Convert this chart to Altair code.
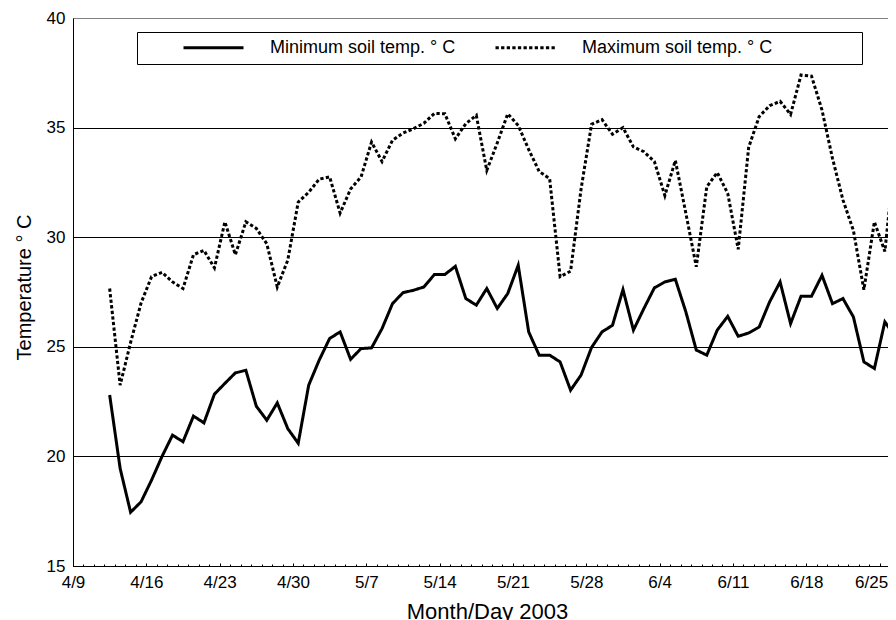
import json
import altair as alt
import pandas as pd

FONT = "Liberation Sans"

axis_start = "2003-04-09"
first_date = "2003-04-12"
tick_days = [0, 7, 14, 21, 28, 35, 42, 49, 56, 63, 70, 77]
tick_labels = ["4/9", "4/16", "4/23", "4/30", "5/7", "5/14", "5/21", "5/28",
               "6/4", "6/11", "6/18", "6/25"]
minor_days = list(range(0, 78))
y_ticks = [15, 20, 25, 30, 35, 40]
series_names = ["Minimum soil temp. \u00b0 C", "Maximum soil temp. \u00b0 C"]

min_temp = [22.8, 19.45, 17.45, 17.93, 18.92, 20.0, 20.97, 20.67, 21.84, 21.53,
            22.84, 23.33, 23.81, 23.93, 22.29, 21.65, 22.44, 21.27, 20.6, 23.25,
            24.39, 25.38, 25.68, 24.43, 24.92, 24.95, 25.83, 26.97, 27.47, 27.58,
            27.73, 28.3, 28.3, 28.67, 27.2, 26.9, 27.66, 26.75, 27.43, 28.72,
            25.68, 24.62, 24.62, 24.31, 23.02, 23.71, 24.97, 25.68, 25.98, 27.61,
            25.76, 26.75, 27.69, 27.96, 28.08, 26.6, 24.85, 24.62, 25.76, 26.39,
            25.48, 25.63, 25.9, 27.05, 27.96, 26.06, 27.31, 27.31, 28.26, 26.97,
            27.2, 26.36, 24.31, 24.01, 26.14, 25.45]

max_temp = [27.66, 23.25, 25.2, 27.0, 28.2, 28.4, 27.96, 27.66, 29.2, 29.4,
            28.6, 30.7, 29.2, 30.7, 30.4, 29.7, 27.73, 28.95, 31.6, 32.05,
            32.65, 32.75, 31.1, 32.2, 32.75, 34.34, 33.45, 34.42, 34.75, 34.95,
            35.2, 35.65, 35.63, 34.49, 35.18, 35.56, 33.05, 34.3, 35.63, 35.1,
            34.0, 33.0, 32.67, 28.2, 28.45, 32.2, 35.15, 35.36, 34.7, 35.0,
            34.12, 33.9, 33.45, 31.9, 33.5, 31.1, 28.65, 32.3, 32.95, 32.0,
            29.45, 34.1, 35.5, 36.0, 36.2, 35.6, 37.4, 37.35, 35.8, 33.6,
            31.7, 30.3, 27.6, 30.7, 29.35, 33.9]

# daily readings plotted at mid-day, x = days since 4/9
dates = pd.date_range(first_date, periods=len(min_temp), freq="D")
day = [float((d - pd.Timestamp(axis_start)).days) + 0.5 for d in dates]

rows = []
for name, vals in zip(series_names, [min_temp, max_temp]):
    for dval, v in zip(day, vals):
        rows.append({"day": dval, "temp": v, "series": name})
df = pd.DataFrame(rows)

xscale = alt.Scale(domain=[0, 77.8], nice=False, zero=False)
yscale = alt.Scale(domain=[15, 40], nice=False, zero=False)

label_expr = json.dumps(tick_labels) + "[round(datum.value / 7)]"
last_tick = tick_days[-1]

lines = alt.Chart(df).mark_line(
    color="black", strokeWidth=3, clip=True, strokeCap="butt"
).encode(
    x=alt.X("day:Q", scale=xscale,
            axis=alt.Axis(orient="bottom", values=tick_days, labelExpr=label_expr,
                          ticks=False, grid=False, domain=True, domainColor="black",
                          domainWidth=1, labelFont=FONT, labelFontSize=17,
                          labelColor="black", labelPadding=8, labelFlush=False,
                          labelOverlap=False,
                          labelAlign={"condition": {"test": f"datum.value === {last_tick}",
                                                    "value": "right"},
                                      "value": "center"},
                          labelOffset={"condition": {"test": f"datum.value === {last_tick}",
                                                     "value": 8},
                                       "value": 0},
                          title="Month/Day 2003",
                          titleFont=FONT, titleFontSize=22, titleFontWeight="normal",
                          titleColor="black", titleX=414, titleY=52,
                          titleAlign="center", titleBaseline="alphabetic")),
    y=alt.Y("temp:Q", scale=yscale,
            axis=alt.Axis(values=y_ticks, ticks=False, grid=True, gridColor="black",
                          gridWidth=1,
                          gridDash={"condition": {"test": "datum.value === 40", "value": [1, 1]},
                                    "value": []},
                          domainColor="black", domainWidth=1, labelFont=FONT,
                          labelFontSize=17, labelColor="black", labelPadding=8,
                          labelFlush=False, title="Temperature \u00b0 C",
                          titleFont=FONT, titleFontSize=20, titleFontWeight="normal",
                          titleColor="black", titleX=-43, titleY=269, titleAngle=270,
                          titleAlign="center", titleBaseline="alphabetic")),
    strokeDash=alt.StrokeDash(
        "series:N",
        scale=alt.Scale(domain=series_names, range=[[1, 0], [3.3, 2.3]]),
        legend=alt.Legend(orient="none", legendX=64, legendY=14, direction="horizontal",
                          title="\u200b", titleOrient="right", titleFontSize=10,
                          titlePadding=83, padding=7, strokeColor="black",
                          fillColor="white", symbolType="stroke", symbolSize=3600,
                          symbolStrokeWidth=3, symbolStrokeColor="black",
                          symbolOffset=38, labelOffset=25, clipHeight=17,
                          labelFont=FONT, labelFontSize=18, labelColor="black",
                          labelLimit=600, columnPadding=0)),
)

major = alt.Chart(pd.DataFrame({"tick": tick_days})).mark_point(opacity=0).encode(
    x=alt.X("tick:Q", scale=xscale,
            axis=alt.Axis(orient="bottom", values=tick_days, offset=-3, tickSize=3,
                          tickColor="black", tickWidth=1, domain=False, labels=False,
                          grid=False, title=None))
)

minor = alt.Chart(pd.DataFrame({"mday": minor_days})).mark_point(opacity=0).encode(
    x=alt.X("mday:Q", scale=xscale,
            axis=alt.Axis(orient="bottom", values=minor_days, offset=-2, tickSize=2,
                          tickColor="black", tickWidth=1, domain=False, labels=False,
                          grid=False, title=None))
)

chart = alt.layer(lines, major, minor).resolve_axis(x="independent").properties(
    width=815, height=548,
    padding={"left": 65, "top": 10, "right": 0, "bottom": 54},
    autosize=alt.AutoSizeParams(type="none"),
    background="white",
).configure_view(strokeWidth=0)

chart.save("out.html", embed_options={"renderer": "svg", "actions": False})
